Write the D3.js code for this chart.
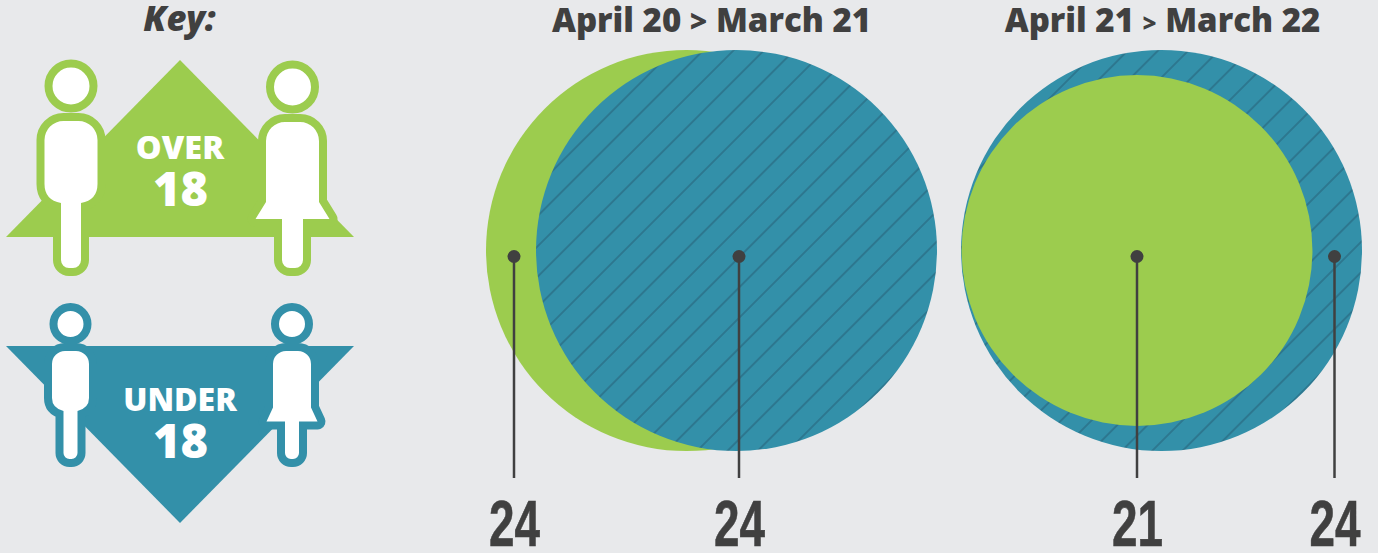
<!DOCTYPE html>
<html>
<head>
<meta charset="utf-8">
<script src="https://cdn.jsdelivr.net/npm/d3@7"></script>
<style>
  html, body { margin: 0; padding: 0; background: #e8e9eb; overflow: hidden; }
  text { font-family: "Open Sans", "Noto Sans", sans-serif; font-weight: 800; }
</style>
</head>
<body>
<div id="chart"></div>
<script>
var periods = ['April 20', 'April 21'];
var periodEnds = ['March 21', 'March 22'];
var over18 = [24, 21];
var under18 = [24, 24];

var w = 1378;
var h = 553;
var green = '#9ccc4e';
var blue = '#3390a9';
var dark = '#404040';

var svg = d3.select('#chart').append('svg')
  .attr('width', w)
  .attr('height', h)
  .style('display', 'block');

svg.append('rect').attr('width', w).attr('height', h).attr('fill', '#e8e9eb');

// hatching on the blue circles
var pattern = svg.append('defs').append('pattern')
  .attr('id', 'hatch')
  .attr('patternUnits', 'userSpaceOnUse')
  .attr('width', 21.45)
  .attr('height', 21.45)
  .attr('patternTransform', 'translate(10.4,0) rotate(-45)');
pattern.append('rect').attr('width', 21.45).attr('height', 21.45).attr('fill', blue);
pattern.append('line')
  .attr('x1', 0).attr('x2', 21.45).attr('y1', 10.725).attr('y2', 10.725)
  .attr('stroke', '#2b7189').attr('stroke-width', 1.6);

// radius goes with the value, 24 is the big circle
var r = d3.scaleLinear().domain([0, 24]).range([0, 200.5]);
var cy = 250.5;

var panels = [
  { overX: 686.5, underX: 736.5, overDot: 514, underDot: 739, title: 711.5, gt: 30 },
  { overX: 1137, underX: 1161.5, overDot: 1137, underDot: 1334.5, title: 1162.5, gt: 24 }
];

panels.forEach(function (p, i) {
  var overC = function (g) {
    g.append('circle').attr('cx', p.overX).attr('cy', cy).attr('r', r(over18[i])).attr('fill', green);
  };
  var underC = function (g) {
    g.append('circle').attr('cx', p.underX).attr('cy', cy).attr('r', r(under18[i])).attr('fill', 'url(#hatch)');
  };
  var g = svg.append('g');
  if (i === 0) { overC(g); underC(g); } else { underC(g); overC(g); }

  var t = svg.append('text')
    .attr('x', p.title)
    .attr('y', 32)
    .attr('text-anchor', 'middle')
    .attr('font-size', 33)
    .attr('fill', dark);
  t.append('tspan').text(periods[i] + ' ');
  t.append('tspan').attr('font-size', p.gt).text('>');
  t.append('tspan').text(' ' + periodEnds[i]);

  var marks = [
    { x: p.overDot, v: over18[i] },
    { x: p.underDot, v: under18[i] }
  ];

  var mark = svg.append('g').selectAll('g').data(marks).enter().append('g');
  mark.append('line')
    .attr('x1', function (d) { return d.x; })
    .attr('x2', function (d) { return d.x; })
    .attr('y1', 256.5)
    .attr('y2', 478)
    .attr('stroke', dark)
    .attr('stroke-width', 2.5);
  mark.append('circle')
    .attr('cx', function (d) { return d.x; })
    .attr('cy', 256.5)
    .attr('r', 6.5)
    .attr('fill', dark);
  mark.append('text')
    .attr('x', function (d) { return d.x - 25; })
    .attr('y', 546)
    .attr('font-size', 65)
    .attr('textLength', 51)
    .attr('lengthAdjust', 'spacingAndGlyphs')
    .attr('stroke', dark)
    .attr('stroke-width', 0.6)
    .attr('fill', dark)
    .style('font-family', '"Liberation Sans Narrow", "Liberation Sans", sans-serif')
    .style('font-weight', 700)
    .text(function (d) { return d.v; });
});

// key
svg.append('text')
  .attr('x', 179.5)
  .attr('y', 31)
  .attr('text-anchor', 'middle')
  .attr('font-size', 34.5)
  .attr('font-style', 'italic')
  .attr('fill', dark)
  .text('Key:');

function bodyPath(o) {
  var c = d3.path();
  var x = o.x, hw = o.half, top = o.top, rad = o.corner, leg = o.leg, end = o.end, lr = o.legR;
  c.moveTo(x - hw + rad, top);
  c.arcTo(x + hw, top, x + hw, top + rad, rad);
  if (o.skirt) {
    c.lineTo(x + hw, o.bottom - o.flareH);
    c.lineTo(x + o.skirt, o.bottom);
    c.lineTo(x + leg, o.bottom);
  } else {
    c.lineTo(x + hw, o.bottom - rad);
    c.quadraticCurveTo(x + hw, o.bottom - 3, x + leg, o.bottom);
  }
  c.arcTo(x + leg, end, x, end, lr);
  c.arcTo(x - leg, end, x - leg, o.bottom, lr);
  if (o.skirt) {
    c.lineTo(x - leg, o.bottom);
    c.lineTo(x - o.skirt, o.bottom);
    c.lineTo(x - hw, o.bottom - o.flareH);
  } else {
    c.lineTo(x - leg, o.bottom);
    c.quadraticCurveTo(x - hw, o.bottom - 3, x - hw, o.bottom - rad);
  }
  c.arcTo(x - hw, top, x - hw + rad, top, rad);
  c.closePath();
  return c.toString();
}

function person(o, colour) {
  var g = svg.append('g');
  g.append('circle')
    .attr('cx', o.x).attr('cy', o.headY).attr('r', o.headR)
    .attr('fill', '#fff').attr('stroke', colour).attr('stroke-width', 8);
  g.append('path')
    .attr('d', bodyPath(o))
    .attr('fill', '#fff')
    .attr('stroke', colour)
    .attr('stroke-width', 16)
    .attr('stroke-linejoin', 'round')
    .style('paint-order', 'stroke');
}

function triangle(pts, colour) {
  svg.append('path').attr('d', d3.line()(pts) + 'Z').attr('fill', colour);
}

function keyLabel(word, y1, y2, size) {
  svg.append('text').attr('x', 180).attr('y', y1).attr('text-anchor', 'middle')
    .attr('font-size', size).attr('fill', '#fff').text(word);
  svg.append('text').attr('x', 180.5).attr('y', y2).attr('text-anchor', 'middle')
    .attr('font-size', 47).attr('fill', '#fff').text('18');
}

triangle([[180, 60], [354, 237], [6, 237]], green);
person({ x: 71, headY: 86, headR: 22.5, half: 26.5, top: 121, corner: 19, bottom: 203, leg: 10, end: 268, legR: 8 }, green);
person({ x: 292.5, headY: 87, headR: 22.5, half: 26.5, top: 122, corner: 19, bottom: 219, flareH: 17, skirt: 37, leg: 10.5, end: 268, legR: 8 }, green);
keyLabel('OVER', 159, 206, 32.5);

triangle([[6, 346], [354, 346], [180, 523]], blue);
person({ x: 70.5, headY: 324, headR: 17, half: 18.5, top: 351, corner: 13, bottom: 411, leg: 7, end: 459, legR: 6 }, blue);
person({ x: 292, headY: 324, headR: 17, half: 19, top: 351, corner: 13, bottom: 421.5, flareH: 14, skirt: 25.5, leg: 7, end: 459, legR: 6 }, blue);
keyLabel('UNDER', 411, 458, 32);
</script>
</body>
</html>
